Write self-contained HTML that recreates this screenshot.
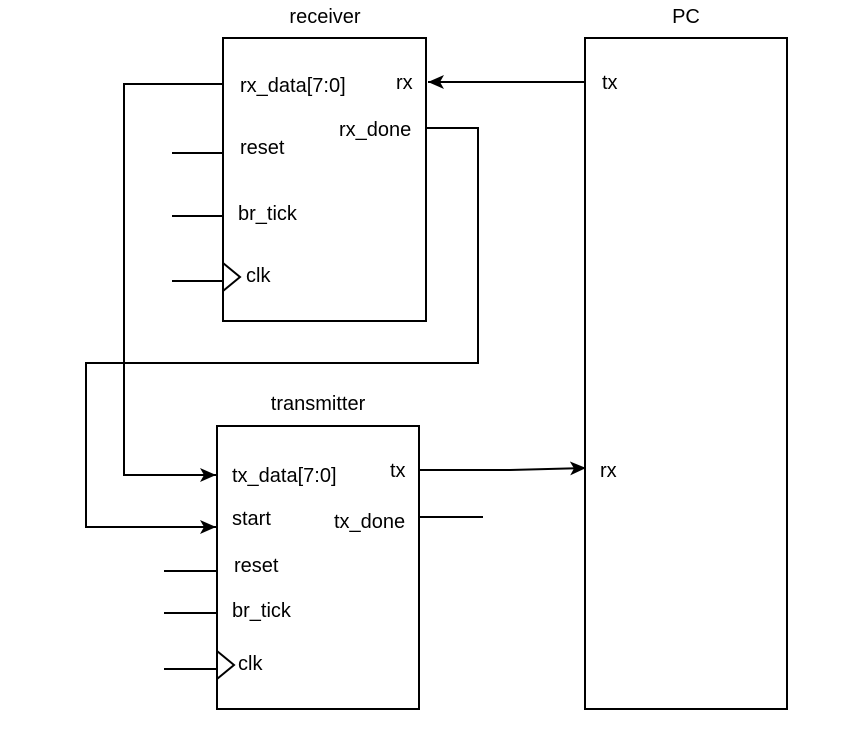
<!DOCTYPE html>
<html><head><style>html,body{margin:0;padding:0;background:#fff}</style></head><body>
<svg width="868" height="738" xmlns="http://www.w3.org/2000/svg" font-family="Liberation Sans, Arial, sans-serif" font-size="20" fill="#000">
<defs><marker id="a" markerWidth="18" markerHeight="14" refX="16" refY="7" orient="auto" markerUnits="userSpaceOnUse"><path d="M0,0 L16,7 L0,14 L4,7 z" fill="#000"/></marker></defs>
<g fill="none" stroke="#000" stroke-width="2">
<rect x="223" y="38" width="203" height="283"/>
<rect x="217" y="426" width="202" height="283"/>
<rect x="585" y="38" width="202" height="671"/>
<path d="M223,263 L240,277 L223,291"/>
<path d="M217,651 L234,665 L217,679"/>
<path d="M172,153H223M172,216H223M172,281H223"/>
<path d="M164,571H217M164,613H217M164,669H217"/>
<path d="M223,84H124V475H216" marker-end="url(#a)"/>
<path d="M426,128H478V363H86V527H216" marker-end="url(#a)"/>
<path d="M585,82H428" marker-end="url(#a)"/>
<path d="M419,470H510L586,468" marker-end="url(#a)"/>
<path d="M419,517H483"/>
</g>
<g stroke="none">
<text x="325" y="23" text-anchor="middle">receiver</text>
<text x="686" y="23" text-anchor="middle">PC</text>
<text x="318" y="410" text-anchor="middle">transmitter</text>
<text x="240" y="92">rx_data[7:0]</text>
<text x="396" y="89">rx</text>
<text x="339" y="136">rx_done</text>
<text x="240" y="154">reset</text>
<text x="238" y="220">br_tick</text>
<text x="246" y="282">clk</text>
<text x="232" y="482">tx_data[7:0]</text>
<text x="390" y="477">tx</text>
<text x="232" y="525">start</text>
<text x="334" y="528">tx_done</text>
<text x="234" y="572">reset</text>
<text x="232" y="617">br_tick</text>
<text x="238" y="670">clk</text>
<text x="602" y="89">tx</text>
<text x="600" y="477">rx</text>
</g>
</svg>
</body></html>
